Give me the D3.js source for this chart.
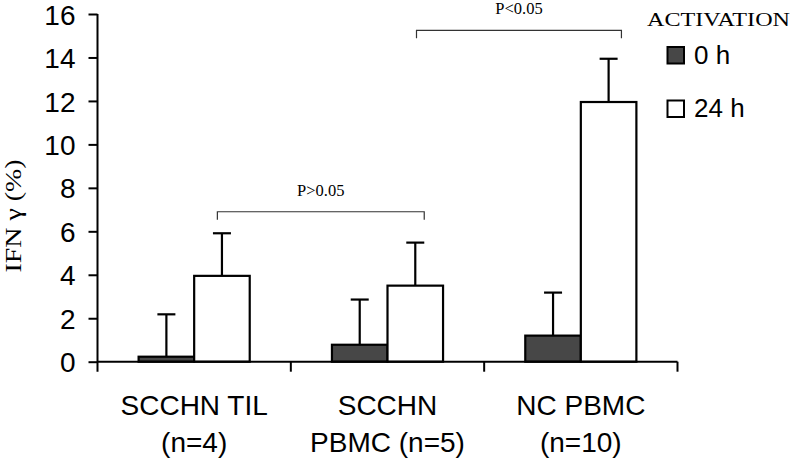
<!DOCTYPE html>
<html><head><meta charset="utf-8">
<script src="https://cdn.jsdelivr.net/npm/d3@7/dist/d3.min.js"></script>
<style>html,body{margin:0;padding:0;background:#fff;}svg{display:block;}</style>
</head><body>
<svg id="c" width="793" height="464"></svg>
<script>
const categories = ["SCCHN TIL|(n=4)", "SCCHN|PBMC (n=5)", "NC PBMC|(n=10)"];
const seriesNames = ["0 h", "24 h"];
const values0h = [0.23, 0.78, 1.2];
const values24h = [3.95, 3.5, 11.95];
const errors0h = [1.95, 2.08, 1.98];
const errors24h = [1.96, 1.98, 1.99];
const yTicks = [0, 2, 4, 6, 8, 10, 12, 14, 16];
const comparisons = [
  {label: "P>0.05", from: 0, to: 1, level: 6.9},
  {label: "P<0.05", from: 1, to: 2, level: 15.25}
];

const svg = d3.select("#c");
const x0 = d3.scaleBand().domain(categories).range([97.5, 677.5]).padding(0);
const x1 = d3.scaleBand().domain(seriesNames).range([0, x0.bandwidth()]).paddingInner(0).paddingOuter(0.74);
const y = d3.scaleLinear().domain([0, 16]).range([361.7, 14]);
const fills = {"0 h": "#474747", "24 h": "#ffffff"};

const data = categories.map((c, i) => ({cat: c, items: [
  {s: "0 h", v: values0h[i], e: errors0h[i]},
  {s: "24 h", v: values24h[i], e: errors24h[i]}
]}));

// error bars (behind bars)
const g = svg.append("g");
data.forEach(d => {
  d.items.forEach(it => {
    const cx = x0(d.cat) + x1(it.s) + x1.bandwidth() / 2;
    g.append("line").attr("x1", cx).attr("x2", cx).attr("y1", y(it.v)).attr("y2", y(it.v + it.e))
      .attr("stroke", "#000").attr("stroke-width", 2.2);
    g.append("line").attr("x1", cx - 9).attr("x2", cx + 9).attr("y1", y(it.v + it.e)).attr("y2", y(it.v + it.e))
      .attr("stroke", "#000").attr("stroke-width", 2.2);
  });
});
// bars
data.forEach(d => {
  g.selectAll(null).data(d.items).enter().append("rect")
    .attr("x", it => x0(d.cat) + x1(it.s))
    .attr("y", it => y(it.v))
    .attr("width", x1.bandwidth())
    .attr("height", it => y(0) - y(it.v))
    .attr("fill", it => fills[it.s])
    .attr("stroke", "#000").attr("stroke-width", 2.2);
});

// y axis
const yAxis = d3.axisLeft(y).tickValues(yTicks).tickSize(9).tickPadding(13).tickSizeOuter(0);
const ya = svg.append("g").attr("transform", "translate(97.5,0)").call(yAxis);
ya.select(".domain").remove();
ya.selectAll(".tick line").attr("stroke", "#000").attr("stroke-width", 2);
ya.selectAll(".tick text").attr("font-family", "Liberation Sans, Arial, sans-serif").attr("font-size", 28).attr("fill", "#000").attr("dy", "0.36em");
svg.append("line").attr("x1", 97.5).attr("x2", 97.5).attr("y1", y(16)).attr("y2", y(0) + 10)
  .attr("stroke", "#000").attr("stroke-width", 2);

// x axis
svg.append("line").attr("x1", 97.5).attr("x2", 677.5).attr("y1", y(0)).attr("y2", y(0))
  .attr("stroke", "#000").attr("stroke-width", 2);
categories.forEach(c => {
  const xr = x0(c) + x0.bandwidth();
  svg.append("line").attr("x1", xr).attr("x2", xr).attr("y1", y(0)).attr("y2", y(0) + 10)
    .attr("stroke", "#000").attr("stroke-width", 2);
  const lines = c.split("|");
  const t = svg.append("text").attr("x", x0(c) + x0.bandwidth() / 2).attr("text-anchor", "middle")
    .attr("font-family", "Liberation Sans, Arial, sans-serif").attr("font-size", 28).attr("fill", "#000");
  lines.forEach((l, k) => t.append("tspan").attr("x", x0(c) + x0.bandwidth() / 2).attr("y", 415 + k * 37).text(l));
});

// y label
svg.append("text").attr("transform", "translate(21,216) rotate(-90)").attr("text-anchor", "middle")
  .attr("font-family", "Liberation Serif, Times New Roman, serif").attr("font-size", 23)
  .attr("textLength", 113).attr("lengthAdjust", "spacingAndGlyphs")
  .attr("fill", "#000").text("IFN γ (%)");

// comparison brackets
const bracketFrac = [[0.62, 0.69], [0.65, 0.71]];
comparisons.forEach((cmp, i) => {
  const xa = x0(categories[cmp.from]) + x0.bandwidth() * bracketFrac[i][0];
  const xb = x0(categories[cmp.to]) + x0.bandwidth() * bracketFrac[i][1];
  const yy = y(cmp.level);
  svg.append("path").attr("d", `M${xa},${yy + 8}V${yy}H${xb}V${yy + 8}`)
    .attr("fill", "none").attr("stroke", "#333").attr("stroke-width", 1.2);
  svg.append("text").attr("x", (xa + xb) / 2).attr("y", yy - 16).attr("text-anchor", "middle")
    .attr("font-family", "Liberation Serif, Times New Roman, serif").attr("font-size", 16.5)
    .attr("fill", "#000").text(cmp.label);
});

// legend
svg.append("text").attr("x", 647).attr("y", 26).attr("font-family", "Liberation Serif, Times New Roman, serif")
  .attr("font-size", 19).attr("textLength", 143).attr("lengthAdjust", "spacingAndGlyphs").attr("fill", "#000").text("ACTIVATION");
seriesNames.forEach((s, i) => {
  const yy = 47 + i * 53.5;
  svg.append("rect").attr("x", 667.5).attr("y", yy).attr("width", 16.5).attr("height", 16.5)
    .attr("fill", fills[s]).attr("stroke", "#000").attr("stroke-width", 2);
  svg.append("text").attr("x", 694).attr("y", yy + 16.5).attr("font-family", "Liberation Sans, Arial, sans-serif")
    .attr("font-size", 26).attr("fill", "#000").text(s);
});
</script>
</body></html>
